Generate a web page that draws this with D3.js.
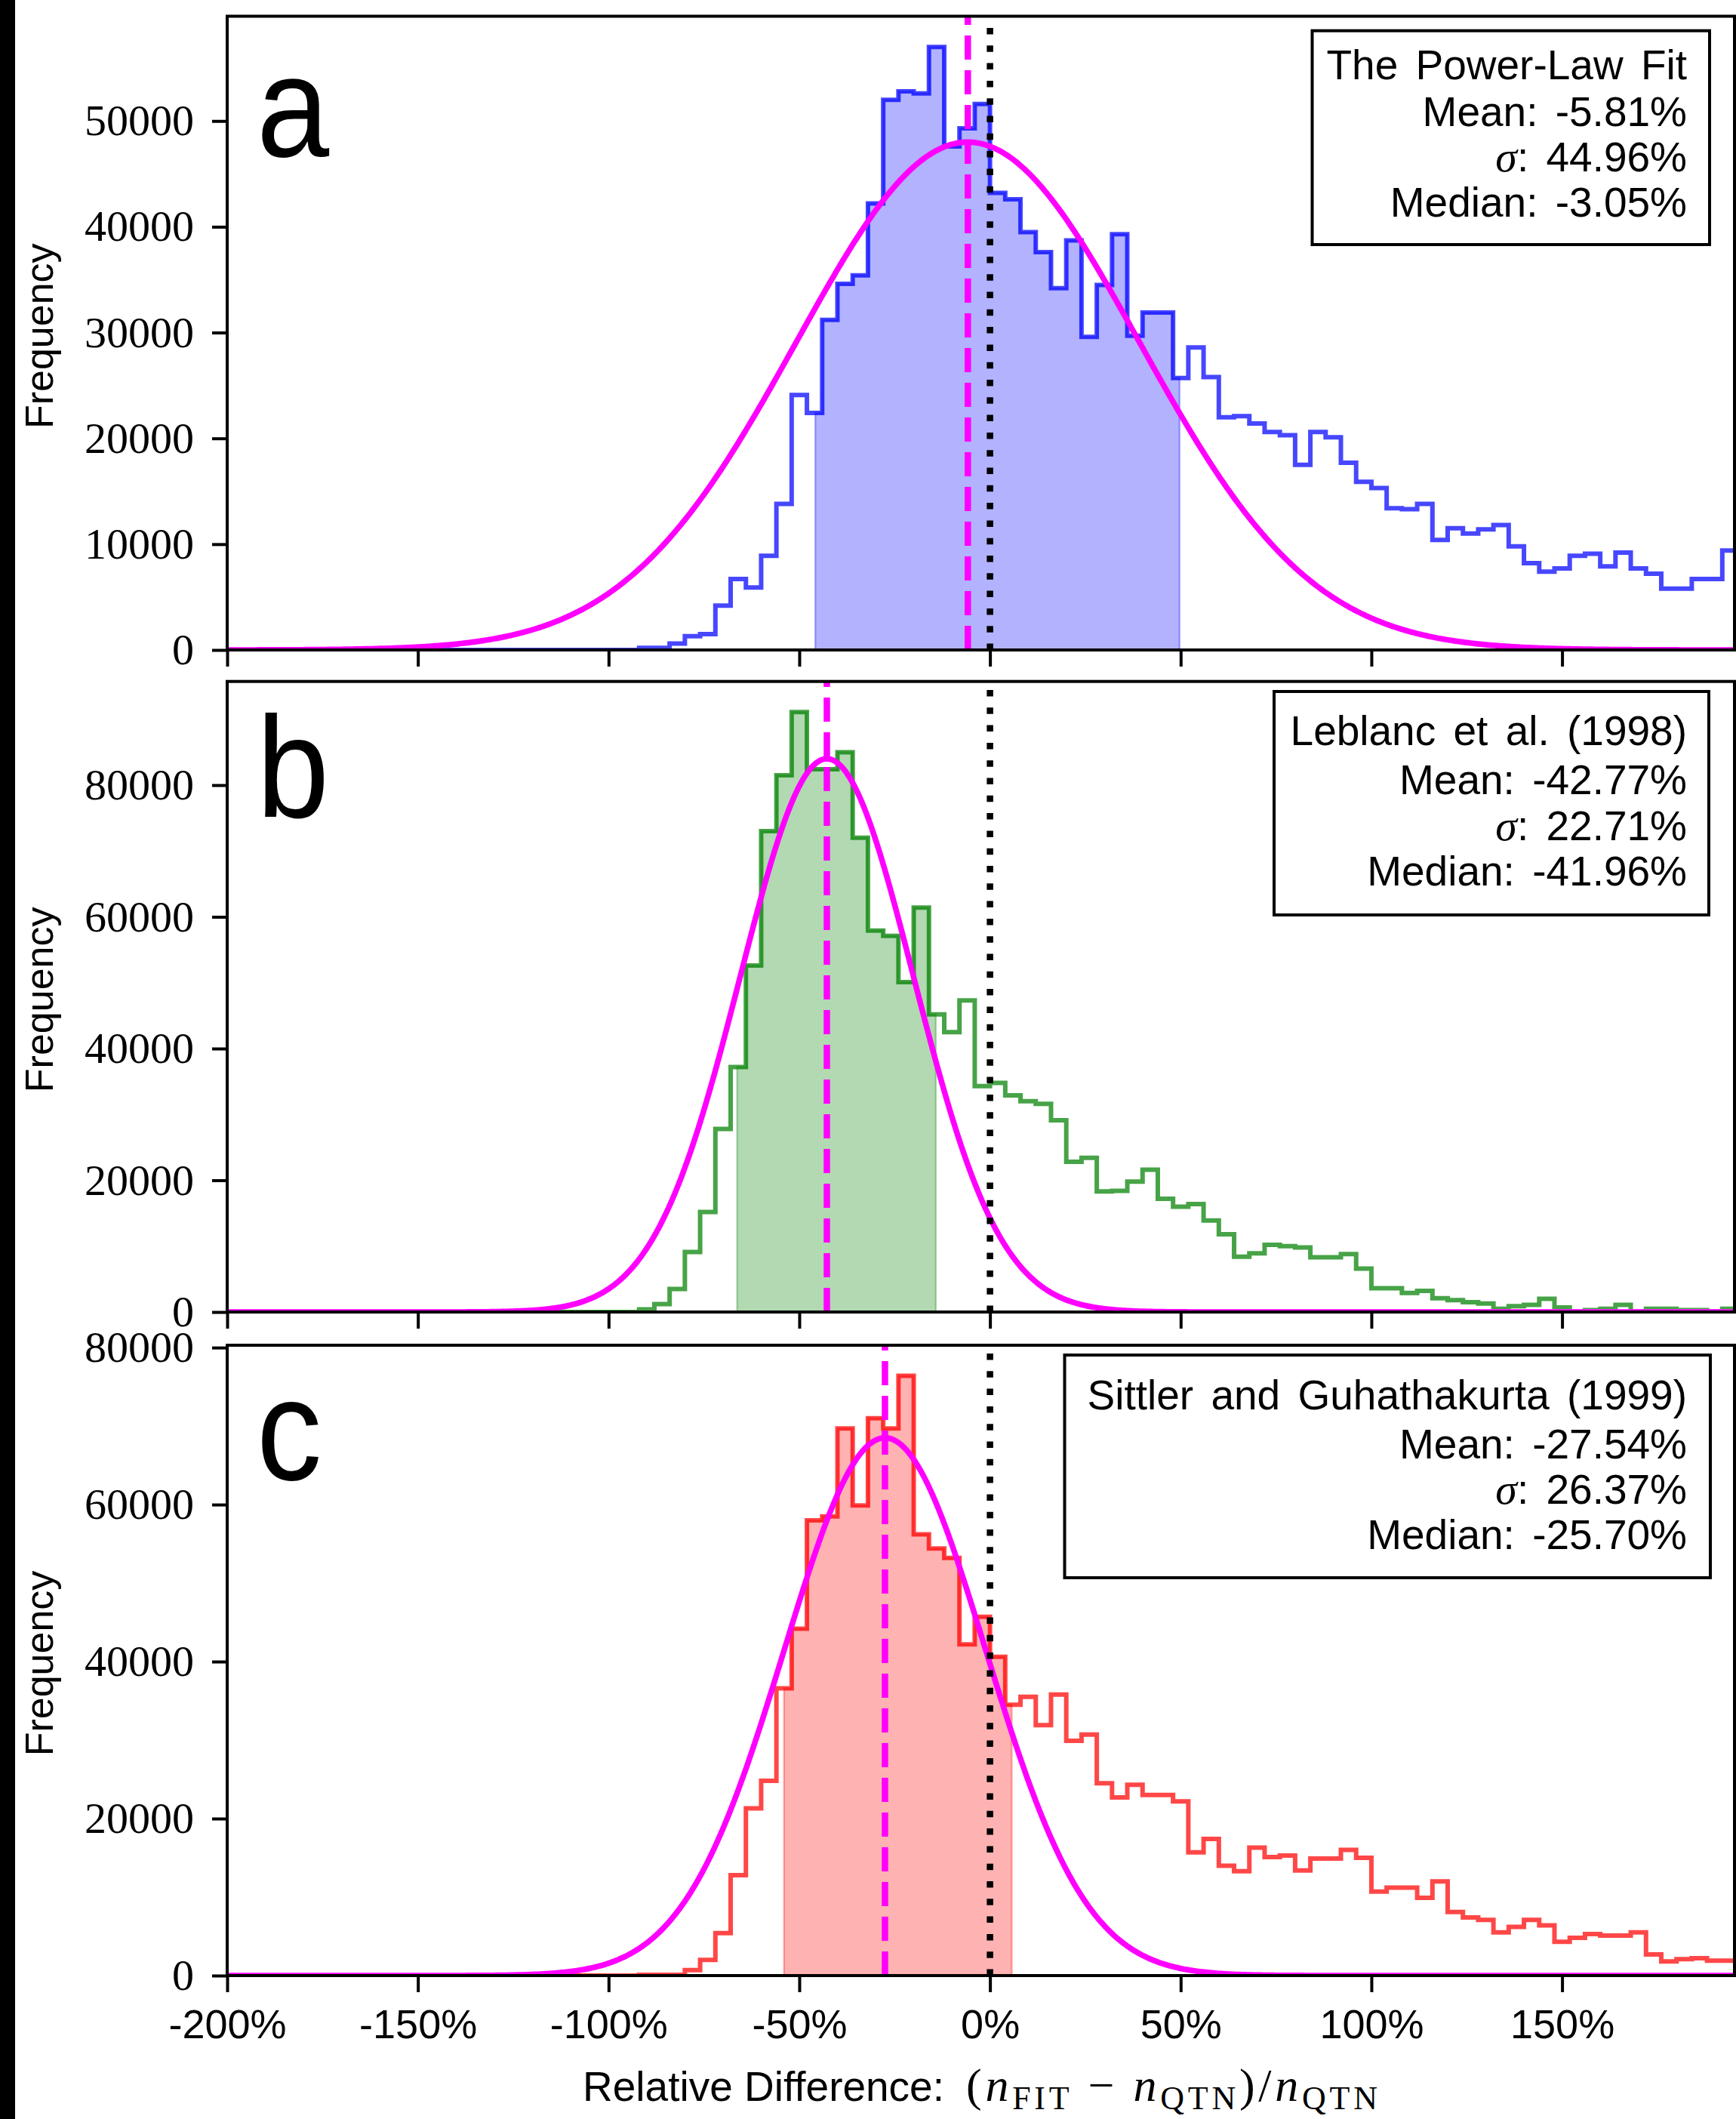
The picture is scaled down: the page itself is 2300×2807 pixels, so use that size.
<!DOCTYPE html>
<html><head><meta charset="utf-8">
<script src="https://cdn.jsdelivr.net/npm/d3@7"></script>
<style>html,body{margin:0;padding:0;background:#fff;} svg{display:block;}</style>
</head><body>
<script>
// ---------------- DATA ----------------
const binStart = -200;      // left edge of first bin (%)
const binWidth = 4;         // bin width (%)
const xDomain = [-200, 195.2];
const xTickValues = [-200, -150, -100, -50, 0, 50, 100, 150];

// histogram counts, bins of 4% starting at -200%
const countsA = [0,0,0,0,0,0,0,0,0,0,0,0,0,0,0,0,0,0,0,0,0,0,0,0,0,
  0,0,200,200,600,1300,1500,4200,6700,5900,8900,13800,24100,22400,31200,34600,35400,42200,52000,52800,52600,57000,47600,49300,51600,
  43200,42600,39500,37600,34200,38700,29600,34500,39300,29700,31900,31900,25700,28600,25800,22000,22100,21400,20600,20300,17500,20600,20100,17700,15900,
  15300,13400,13300,13800,10400,11500,11000,11400,11800,9800,8200,7400,7700,8900,9100,7900,9200,7700,7200,5800,5800,6700,6700,9400];
const countsB = [0,0,0,0,0,0,0,0,0,0,0,0,0,0,0,0,0,0,0,0,0,0,0,0,0,
  0,0,400,1200,3500,9100,15200,27800,37200,52600,73000,81500,91100,82400,82400,85000,72000,57900,57100,50100,61400,45200,42500,47300,34300,
  34800,32900,32000,31600,29100,22800,23400,18300,18400,19800,21600,17200,16000,16400,13900,11800,8400,8900,10200,10000,9800,8300,8300,8800,6600,
  3600,3600,2900,3200,2100,1800,1500,1300,500,900,1100,2000,700,100,300,500,1100,100,500,500,300,300,100,500];
const countsC = [0,0,0,0,0,0,0,0,0,0,0,0,0,0,0,0,0,0,0,0,0,0,0,0,0,
  0,0,100,100,100,700,2000,5400,12800,21300,24800,36600,44200,58000,58500,69700,59900,71000,69700,76400,56200,54400,53200,42200,45700,
  40600,34500,35500,31900,35800,29900,30700,24500,22700,24300,23000,23000,22200,15700,17400,14000,13300,16300,15100,15300,13400,14900,14900,16000,15000,
  10700,11200,11200,9900,12000,8100,7400,7100,5500,6200,7100,6400,4300,4800,5300,5100,5100,5500,2700,1800,2100,2200,1900,1900];

const panelLetters = ["a", "b", "c"];
const seriesColors = ["#0000ff", "#008000", "#ff0000"];
const legendTitles = ["The Power-Law Fit", "Leblanc et al. (1998)", "Sittler and Guhathakurta (1999)"];
const means = [-5.81, -42.77, -27.54];
const sigmas = [44.96, 22.71, 26.37];
const medians = [-3.05, -41.96, -25.70];
const fitPeaks = [48000, 84000, 68500];
const shadeRanges = [[-45.8, 49.7], [-66.3, -14.2], [-54.0, 5.7]];
const yMaxes = [59900, 95740, 80300];
const yTicksA = [0, 10000, 20000, 30000, 40000, 50000];
const yTicksB = [0, 20000, 40000, 60000, 80000];
const yTicksC = [0, 20000, 40000, 60000, 80000];
const yLabel = "Frequency";

// ---------------- LAYOUT ----------------
const W = 2300, H = 2807;
const plotLeft = 301, plotRight = 2298;
const panelTop = [21.5, 902.7, 1782];
const panelBottom = [861, 1738, 2617];
const legendBoxes = [[1738.5, 40.7, 2265, 324], [1688, 916, 2264, 1212], [1410.5, 1795, 2266, 2090]];
const legendBaselines = [[105, 166.7, 226.7, 286.7], [987, 1051.7, 1113, 1173], [1867, 1931.7, 1991.7, 2051.7]];
const legendRight = 2235;
const letterBaselines = [207, 1083, 1960];

const panels = [
  {counts: countsA, ticks: yTicksA},
  {counts: countsB, ticks: yTicksB},
  {counts: countsC, ticks: yTicksC}
];

const svg = d3.select("body").append("svg").attr("width", W).attr("height", H);
svg.append("rect").attr("width", W).attr("height", H).attr("fill", "#fff");
svg.append("rect").attr("x", 0).attr("y", 0).attr("width", 20).attr("height", H).attr("fill", "#000");
const defs = svg.append("defs");

const x = d3.scaleLinear().domain(xDomain).range([plotLeft, plotRight]);
const SANS = "'Liberation Sans', Arial, sans-serif";
const SERIF = "'Liberation Serif', 'Times New Roman', serif";

panels.forEach((p, k) => {
  const color = seriesColors[k];
  const y = d3.scaleLinear().domain([0, yMaxes[k]]).range([panelBottom[k], panelTop[k]]);
  const line = d3.line().x(d => x(d[0])).y(d => y(d[1]));
  const g = svg.append("g");
  const clipId = "clip" + k;
  defs.append("clipPath").attr("id", clipId).append("rect")
    .attr("x", plotLeft).attr("y", panelTop[k])
    .attr("width", plotRight - plotLeft).attr("height", panelBottom[k] - panelTop[k]);
  const inner = g.append("g").attr("clip-path", `url(#${clipId})`);
  const counts = p.counts;

  // step outline points
  const stepPts = [[binStart, 0]];
  counts.forEach((c, i) => {
    stepPts.push([binStart + i * binWidth, c]);
    stepPts.push([binStart + (i + 1) * binWidth, c]);
  });
  stepPts.push([binStart + counts.length * binWidth, 0]);

  // shaded region following the histogram
  const [lo, hi] = shadeRanges[k];
  const binOf = v => Math.floor((v - binStart) / binWidth);
  const fillPts = [[lo, 0], [lo, counts[binOf(lo)]]];
  for (let i = binOf(lo) + 1; i <= binOf(hi); i++) {
    const e = binStart + i * binWidth;
    fillPts.push([e, counts[i - 1]]);
    fillPts.push([e, counts[i]]);
  }
  fillPts.push([hi, counts[binOf(hi)]]);
  fillPts.push([hi, 0]);
  inner.append("path").attr("d", line(fillPts) + "Z")
    .attr("fill", color).attr("fill-opacity", 0.3)
    .attr("stroke", color).attr("stroke-opacity", 0.3).attr("stroke-width", 2.5);

  inner.append("path").attr("d", line(stepPts))
    .attr("fill", "none").attr("stroke", color).attr("stroke-opacity", 0.72)
    .attr("stroke-width", 6).attr("stroke-linejoin", "miter");

  // gaussian fit curve from legend parameters
  const gx = d3.range(xDomain[0], xDomain[1] + 0.5, 0.5);
  inner.append("path")
    .attr("d", line(gx.map(v => [v, fitPeaks[k] * Math.exp(-0.5 * Math.pow((v - means[k]) / sigmas[k], 2))])))
    .attr("fill", "none").attr("stroke", "#ff00ff").attr("stroke-width", 7.5);

  // mean line
  inner.append("line").attr("x1", x(means[k])).attr("x2", x(means[k]))
    .attr("y1", panelBottom[k]).attr("y2", panelTop[k])
    .attr("stroke", "#ff00ff").attr("stroke-width", 8.5).attr("stroke-dasharray", "32,14");
  // zero line
  inner.append("line").attr("x1", x(0)).attr("x2", x(0))
    .attr("y1", panelBottom[k]).attr("y2", panelTop[k])
    .attr("stroke", "#000").attr("stroke-width", 8.5).attr("stroke-dasharray", "8.5,14.8");

  // axes
  const yAxis = d3.axisLeft(y).tickValues(p.ticks).tickSize(20).tickPadding(24).tickFormat(d3.format("d"));
  const ya = g.append("g").attr("transform", `translate(${plotLeft},0)`).call(yAxis);
  ya.select(".domain").remove();
  ya.selectAll(".tick line").attr("stroke-width", 4);
  ya.selectAll(".tick text").attr("font-family", SERIF).attr("font-size", 58).attr("fill", "#000");

  const xAxis = d3.axisBottom(x).tickValues(xTickValues).tickSize(22).tickPadding(23)
    .tickFormat(k === 2 ? (d => d + "%") : (() => ""));
  const xa = g.append("g").attr("transform", `translate(0,${panelBottom[k]})`).call(xAxis);
  xa.select(".domain").remove();
  xa.selectAll(".tick line").attr("stroke-width", 4);
  xa.selectAll(".tick text").attr("font-family", SANS).attr("font-size", 54).attr("fill", "#000");

  // frame
  g.append("rect").attr("x", plotLeft).attr("y", panelTop[k])
    .attr("width", plotRight - plotLeft).attr("height", panelBottom[k] - panelTop[k])
    .attr("fill", "none").attr("stroke", "#000").attr("stroke-width", 4);

  // y label
  g.append("text").attr("transform", `translate(70,${(panelTop[k] + panelBottom[k]) / 2 + 4}) rotate(-90)`)
    .attr("text-anchor", "middle").attr("font-family", SANS).attr("font-size", 52).text(yLabel);

  // panel letter
  g.append("text").attr("transform", `translate(340,${letterBaselines[k]}) scale(0.9,1)`)
    .attr("font-family", SANS).attr("font-size", 192).text(panelLetters[k]);

  // legend box
  const b = legendBoxes[k];
  g.append("rect").attr("x", b[0]).attr("y", b[1]).attr("width", b[2] - b[0]).attr("height", b[3] - b[1])
    .attr("fill", "#fff").attr("stroke", "#000").attr("stroke-width", 4);
  const bl = legendBaselines[k];
  const lt = g.append("g").attr("font-family", SANS).attr("font-size", 55)
    .attr("text-anchor", "end").attr("word-spacing", 8);
  lt.append("text").attr("x", legendRight).attr("y", bl[0]).text(legendTitles[k]);
  lt.append("text").attr("x", legendRight).attr("y", bl[1]).text(`Mean: ${means[k].toFixed(2)}%`);
  const st = lt.append("text").attr("x", legendRight).attr("y", bl[2]);
  st.append("tspan").attr("font-family", SERIF).attr("font-style", "italic").attr("font-size", 58).text("σ");
  st.append("tspan").text(`: ${sigmas[k].toFixed(2)}%`);
  lt.append("text").attr("x", legendRight).attr("y", bl[3]).text(`Median: ${medians[k].toFixed(2)}%`);
});

// x axis label
svg.append("text").attr("x", 1251).attr("y", 2783).attr("text-anchor", "end")
  .attr("font-family", SANS).attr("font-size", 55).text("Relative Difference:");
const ml = svg.append("text").attr("x", 1280).attr("y", 2783)
  .attr("font-family", SERIF).attr("font-size", 62)
  .attr("textLength", 545).attr("lengthAdjust", "spacing");
ml.append("tspan").text("(");
ml.append("tspan").attr("font-style", "italic").text("n");
ml.append("tspan").attr("font-size", 44).attr("dy", 11).text("FIT");
ml.append("tspan").attr("dy", -11).text(" \u2212 ");
ml.append("tspan").attr("font-style", "italic").text("n");
ml.append("tspan").attr("font-size", 44).attr("dy", 11).text("QTN");
ml.append("tspan").attr("dy", -11).text(")/");
ml.append("tspan").attr("font-style", "italic").text("n");
ml.append("tspan").attr("font-size", 44).attr("dy", 11).text("QTN");
</script>
</body></html>
